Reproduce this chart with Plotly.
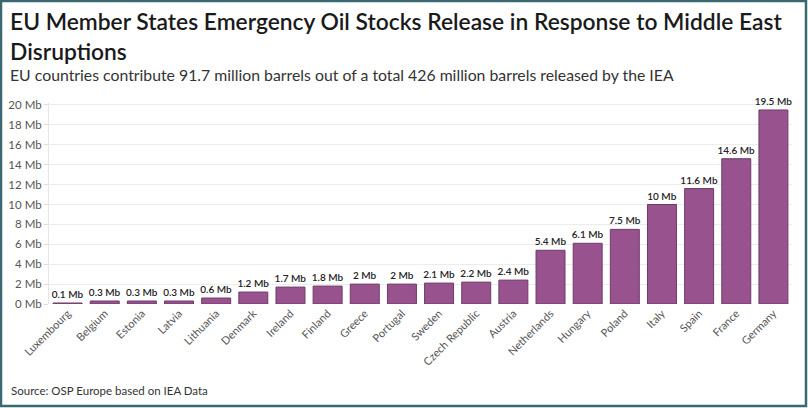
import plotly.graph_objects as go

countries = [
    "Luxembourg", "Belgium", "Estonia", "Latvia", "Lithuania", "Denmark",
    "Ireland", "Finland", "Greece", "Portugal", "Sweden", "Czech Republic",
    "Austria", "Netherlands", "Hungary", "Poland", "Italy", "Spain",
    "France", "Germany",
]
barrels_mb = [
    0.1, 0.3, 0.3, 0.3, 0.6, 1.2, 1.7, 1.8, 2, 2, 2.1, 2.2, 2.4,
    5.4, 6.1, 7.5, 10, 11.6, 14.6, 19.5,
]
y_ticks = [0, 2, 4, 6, 8, 10, 12, 14, 16, 18, 20]
y_tick_labels = [f"{v} Mb" for v in y_ticks]

W, H = 808, 408
L, R, T, B = 49, 16, 103, 104
PW, PH = W - L - R, H - T - B


def px_x(p):
    return (p - L) / PW


def px_y(p):
    return (H - B - p) / PH


FONT = "Lato"

fig = go.Figure(go.Bar(
    x=countries,
    y=barrels_mb,
    marker=dict(color="#98538f", line=dict(color="#6e3a68", width=1)),
    text=[f"{v:g} Mb" for v in barrels_mb],
    textposition="outside",
    textangle=0,
    constraintext="none",
    textfont=dict(size=10, color="#222222", family=FONT, weight=600),
    cliponaxis=False,
    width=0.78,
    hoverinfo="x+y",
))

fig.add_annotation(
    x=px_x(8), y=px_y(5), xref="paper", yref="paper",
    xanchor="left", yanchor="top", align="left", showarrow=False,
    text="EU Member States Emergency Oil Stocks Release in Response to Middle East<br>Disruptions",
    font=dict(size=22.8, color="#1a1a1a", family=FONT, weight=600),
)
fig.add_annotation(
    x=px_x(8), y=px_y(63), xref="paper", yref="paper",
    xanchor="left", yanchor="top", showarrow=False,
    text="EU countries contribute 91.7 million barrels out of a total 426 million barrels released by the IEA",
    font=dict(size=15.8, color="#333333", family=FONT),
)
fig.add_annotation(
    x=px_x(9), y=px_y(390), xref="paper", yref="paper",
    xanchor="left", yanchor="middle", showarrow=False,
    text="Source: OSP Europe based on IEA Data",
    font=dict(size=11.5, color="#333333", family=FONT),
)

# thin teal frame round the picture
fig.add_shape(
    type="rect", xref="paper", yref="paper",
    x0=px_x(1), x1=px_x(806), y0=px_y(406), y1=px_y(1),
    line=dict(color="#3a6870", width=2.5),
)

fig.update_layout(
    width=W, height=H,
    margin=dict(l=L, r=R, t=T, b=B, autoexpand=False),
    paper_bgcolor="white",
    plot_bgcolor="white",
    showlegend=False,
    bargap=0.2,
    font=dict(family=FONT, color="#555555"),
    xaxis=dict(
        tickangle=-45,
        tickfont=dict(size=11, color="#555555"),
        showgrid=False,
        showline=False,
        ticks="",
        automargin=False,
    ),
    yaxis=dict(
        range=[0, 20.2],
        tickvals=y_ticks,
        ticktext=y_tick_labels,
        tickfont=dict(size=11.5, color="#555555"),
        showgrid=True,
        gridcolor="#ececec",
        gridwidth=1,
        zeroline=False,
        showline=True,
        linecolor="#e6e6e6",
        ticks="outside",
        ticklen=4,
        tickcolor="#dddddd",
        automargin=False,
    ),
)

# the browser's default 8px body margin would shift the whole figure
fig.write_html(
    "out.html",
    config={"displayModeBar": False},
    post_script="document.body.style.margin='0';document.body.style.overflow='hidden';",
)
